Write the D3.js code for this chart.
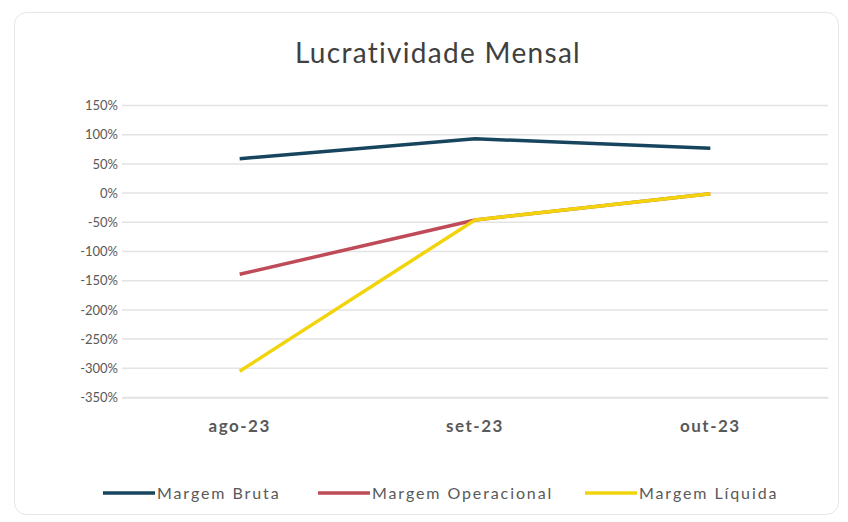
<!DOCTYPE html>
<html lang="pt">
<meta charset="utf-8">
<head>
    <script src="https://d3js.org/d3.v7.min.js"></script>
</head>
<body style="margin:0;background:#fff">
<div id="chart"></div>

<style>
	svg text {
	font-family: Lato, "Open Sans", sans-serif;
	fill: #595959;
	}
</style>

<script>
var months = ["ago-23", "set-23", "out-23"];
var margemBruta = [0.59, 0.93, 0.77];
var margemOperacional = [-1.39, -0.46, -0.01];
var margemLiquida = [-3.05, -0.46, -0.01];
var seriesNames = ["Margem Bruta", "Margem Operacional", "Margem Líquida"];
var yTicks = [1.5, 1.0, 0.5, 0, -0.5, -1.0, -1.5, -2.0, -2.5, -3.0, -3.5];

var width = 848, height = 522;
var colors = ["#17455e", "#be4b57", "#f2d40c"];

var svg = d3.select("#chart")
	.append("svg")
	.attr("width", width)
	.attr("height", height);

// chart frame
svg.append("rect")
	.attr("x", 14.5).attr("y", 12.5)
	.attr("width", 824).attr("height", 502)
	.attr("rx", 12)
	.attr("fill", "#fff")
	.attr("stroke", "#e6e6e6");

svg.append("text")
	.attr("x", 438).attr("y", 63)
	.attr("text-anchor", "middle")
	.style("font-size", "28px")
	.style("letter-spacing", "1.3px")
	.style("fill", "#404040")
	.text("Lucratividade Mensal");

var x = d3.scaleBand().domain(months).range([122, 828]);
var y = d3.scaleLinear().domain([-3.5, 1.5]).range([397.5, 105.5]);

// grid
svg.append("g")
	.selectAll("line")
	.data(yTicks)
	.enter()
	.append("line")
	.attr("x1", 122).attr("x2", 828)
	.attr("y1", function(d) { return y(d); })
	.attr("y2", function(d) { return y(d); })
	.attr("stroke", "#e3e3e3")
	.attr("stroke-width", 1.5);

var yAxis = svg.append("g")
	.attr("transform", "translate(122,0)")
	.call(d3.axisLeft(y).tickValues(yTicks).tickSize(0).tickPadding(4)
		.tickFormat(function(d) { return Math.round(d * 100) + "%"; }));
yAxis.select(".domain").remove();
yAxis.selectAll("text")
	.style("font-size", "13px")
	.style("fill", "#595959")
	.style("font-family", "Lato, sans-serif");

var xAxis = svg.append("g")
	.attr("transform", "translate(0,397.5)")
	.call(d3.axisBottom(x).tickSize(0).tickPadding(22));
xAxis.select(".domain").attr("stroke", "#e3e3e3").attr("stroke-width", 1.5);
xAxis.selectAll("text")
	.style("font-size", "17px")
	.style("letter-spacing", "1.5px")
	.style("font-weight", "bold")
	.style("fill", "#595959")
	.style("font-family", "Lato, sans-serif");

var allSeries = [margemBruta, margemOperacional, margemLiquida];
var line = d3.line()
	.x(function(d, i) { return x(months[i]) + x.bandwidth() / 2; })
	.y(function(d) { return y(d); });

svg.selectAll(".series")
	.data(allSeries)
	.enter()
	.append("path")
	.attr("class", "series")
	.attr("d", line)
	.attr("fill", "none")
	.attr("stroke", function(d, i) { return colors[i]; })
	.attr("stroke-width", 3.5)
	.attr("stroke-linejoin", "round");

// legend
var legendX = [103, 318, 585];
var legend = svg.selectAll(".legend")
	.data(seriesNames)
	.enter()
	.append("g")
	.attr("class", "legend")
	.attr("transform", function(d, i) { return "translate(" + legendX[i] + ",493)"; });
legend.append("line")
	.attr("x1", 0).attr("x2", 52)
	.attr("stroke", function(d, i) { return colors[i]; })
	.attr("stroke-width", 3.5);
legend.append("text")
	.attr("x", 54).attr("dy", ".35em")
	.style("font-size", "16px")
	.style("letter-spacing", "1.9px")
	.text(function(d) { return d; });
</script>
</body>
</html>
